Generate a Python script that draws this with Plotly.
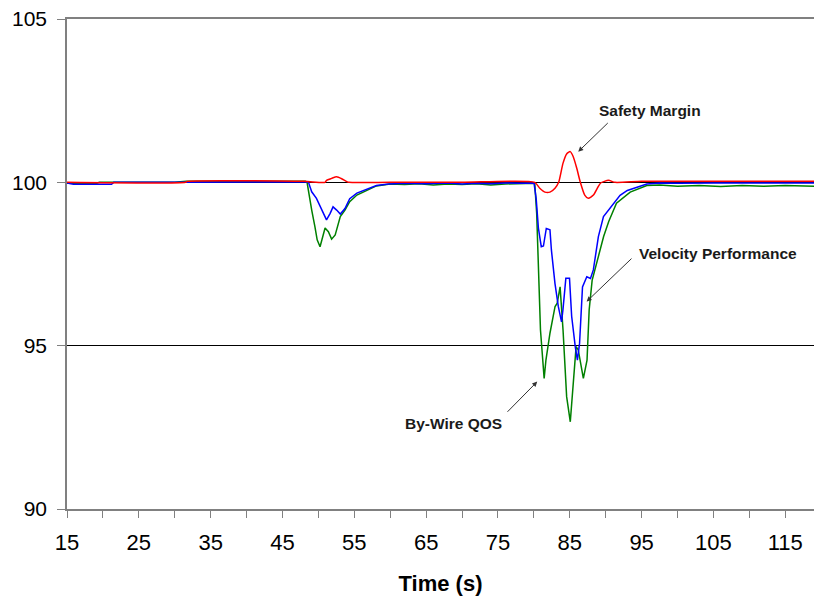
import plotly.graph_objects as go

# ---- data ----
t_safety = [15, 31.5, 31.7, 48, 50.93, 51.13, 51.84, 52.54, 53.24, 53.95, 54.25, 60, 70,
            80.12, 80.82, 81.53, 82.24, 82.94, 83.45, 84.05, 84.56, 85.06, 85.47, 85.97,
            86.47, 87.08, 87.58, 88.29, 88.84, 89.29, 90.39, 91.3, 95, 105, 119]
safety = [100.0, 100.0, 100.03, 100.03, 100.0, 100.06, 100.12, 100.17, 100.11, 100.02,
          100.0, 100.0, 100.0, 100.0, 99.82, 99.7, 99.7, 99.82, 100.0, 100.58, 100.87,
          100.94, 100.79, 100.43, 100.0, 99.61, 99.51, 99.61, 99.82, 99.98, 100.06, 100.0,
          100.03, 100.03, 100.03]

t_velocity = [15, 15.9, 21.2, 21.5, 30, 40, 48.2, 48.62, 49.07, 49.73, 50.43, 51.13, 51.64,
              52.04, 52.54, 53.05, 53.7, 54.36, 55.36, 56.77, 58.08, 59.79, 62, 65, 68, 70,
              72, 74, 76, 78, 80.02, 80.32, 80.63, 81.03, 81.33, 81.73, 82.24, 82.44, 82.94,
              83.4, 83.85, 84.05, 84.45, 84.96, 85.26, 85.76, 86.06, 86.36, 86.77, 87.37,
              87.88, 88.28, 88.98, 89.69, 90.59, 92.0, 93.01, 94.32, 95.72, 97.5, 100, 105,
              110, 115, 119]
velocity = [99.98, 99.94, 99.94, 100.0, 100.0, 100.02, 100.02, 100.0, 99.71, 99.51, 99.2,
            98.85, 99.05, 99.25, 99.15, 99.03, 99.2, 99.5, 99.67, 99.8, 99.9, 99.95, 99.97,
            99.96, 99.98, 99.95, 99.97, 99.96, 99.98, 99.97, 99.98, 99.5, 98.6, 98.03, 98.05,
            98.59, 98.55, 97.93, 96.9, 96.2, 95.73, 96.1, 97.06, 97.06, 95.9, 94.97, 94.56,
            95.07, 96.8, 97.11, 97.06, 97.32, 98.34, 98.95, 99.2, 99.6, 99.75, 99.84, 99.95,
            99.98, 99.97, 99.98, 99.97, 99.98, 99.98]

t_qos = [15, 19, 19.5, 30, 31.6, 40, 48.2, 48.42, 48.72, 49.07, 49.52, 49.83, 50.23, 50.63,
         50.93, 51.39, 51.84, 52.34, 53.05, 53.7, 54.36, 55.36, 56.77, 58.08, 59.99, 62, 64,
         66, 68, 70, 72, 74, 76, 78, 80.12, 80.39, 80.72, 80.92, 81.43, 81.68, 82.24, 82.95,
         83.25, 83.65, 84.06, 84.56, 85.07, 85.42, 85.88, 86.18, 86.89, 87.4, 87.7, 88.11,
         88.81, 89.71, 90.42, 91.5, 93.41, 95.72, 97.5, 100, 103, 106, 109, 112, 115, 119]
qos = [99.97, 99.96, 100.0, 100.0, 100.03, 100.03, 100.03, 100.0, 99.56, 99.15, 98.64,
       98.24, 98.03, 98.34, 98.6, 98.49, 98.26, 98.39, 98.95, 99.15, 99.41, 99.61, 99.76,
       99.89, 99.95, 99.93, 99.96, 99.92, 99.95, 99.93, 99.96, 99.92, 99.95, 99.96, 99.97,
       99.05, 97.0, 95.48, 94.0, 94.56, 95.38, 96.2, 96.3, 96.8, 95.48, 93.44, 92.67, 93.64,
       94.97, 94.87, 94.0, 94.56, 96.1, 97.0, 97.62, 98.34, 98.8, 99.36, 99.7, 99.9, 99.92,
       99.88, 99.9, 99.87, 99.9, 99.88, 99.9, 99.88]

x_ticks = [15, 25, 35, 45, 55, 65, 75, 85, 95, 105, 115]
y_ticks = [90, 95, 100, 105]

# annotation label text and positions (text centre, arrow tail, arrow head)
labels = ["Safety Margin", "Velocity Performance", "By-Wire QOS"]
label_pos = [(96.16, 102.21), (105.63, 97.83), (68.74, 92.62)]
arrow_tail = [(90.50, 101.86), (93.80, 97.71), (76.12, 92.93)]
arrow_head = [(86.18, 100.94), (87.35, 96.35), (80.47, 93.90)]

FONT = "Liberation Sans, Arial, sans-serif"

fig = go.Figure()
fig.add_trace(go.Scatter(x=t_qos, y=qos, mode="lines", name="By-Wire QOS",
                         line=dict(color="#008000", width=1.5)))
fig.add_trace(go.Scatter(x=t_velocity, y=velocity, mode="lines", name="Velocity Performance",
                         line=dict(color="#0000FF", width=1.5)))
fig.add_trace(go.Scatter(x=t_safety, y=safety, mode="lines", name="Safety Margin",
                         line=dict(color="#FF0000", width=1.5, shape="spline", smoothing=0.6)))

for txt, (tx, ty), (ax_, ay_), (hx, hy) in zip(labels, label_pos, arrow_tail, arrow_head):
    fig.add_annotation(x=tx, y=ty, xref="x", yref="y", text="<b>" + txt + "</b>",
                       showarrow=False, font=dict(family=FONT, size=15.5, color="#1a1a1a"))
    fig.add_annotation(x=hx, y=hy, ax=ax_, ay=ay_, xref="x", yref="y", axref="x", ayref="y",
                       text="", showarrow=True, arrowhead=2, arrowsize=1, arrowwidth=1,
                       arrowcolor="#333333")

fig.update_layout(
    width=814, height=596,
    margin=dict(l=67, r=0, t=19, b=87),
    paper_bgcolor="white", plot_bgcolor="white",
    showlegend=False,
    font=dict(family=FONT, color="black"),
)
fig.update_xaxes(
    range=[15, 119], tickvals=x_ticks, ticktext=[str(v) for v in x_ticks],
    ticks="outside", ticklen=7, tickcolor="#808080", tickwidth=1,
    minor=dict(dtick=5, tick0=15, ticks="outside", ticklen=7, tickcolor="#808080", showgrid=False),
    showline=True, linecolor="#808080", linewidth=1.5, mirror=True,
    showgrid=False, zeroline=False,
    tickfont=dict(family=FONT, size=22, color="black"),
    ticklabelstandoff=6,
    title=dict(text="<b>Time (s)</b>", font=dict(family=FONT, size=22, color="black"), standoff=22),
)
fig.update_yaxes(
    range=[90, 105], tickvals=y_ticks, ticktext=[str(v) for v in y_ticks],
    ticks="outside", ticklen=8, tickcolor="#808080", tickwidth=1,
    showline=True, linecolor="#808080", linewidth=1.5,
    showgrid=True, gridcolor="black", gridwidth=1, zeroline=False,
    tickfont=dict(family=FONT, size=21, color="black"),
    ticklabelstandoff=6,
)

fig.write_html("out.html")
